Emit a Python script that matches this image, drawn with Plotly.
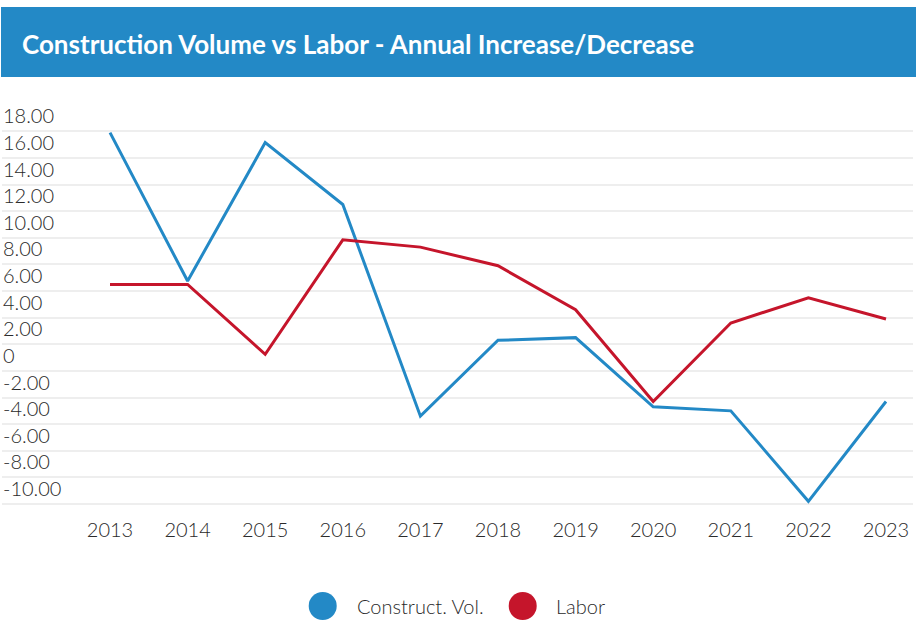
import plotly.graph_objects as go

years = [2013, 2014, 2015, 2016, 2017, 2018, 2019, 2020, 2021, 2022, 2023]
construct_vol = [17.9, 6.75, 17.15, 12.5, -3.4, 2.3, 2.5, -2.7, -3.0, -9.8, -2.3]
labor = [6.5, 6.5, 1.25, 9.85, 9.3, 7.9, 4.6, -2.3, 3.6, 5.5, 3.9]
y_tick_vals = [18, 16, 14, 12, 10, 8, 6, 4, 2, 0, -2, -4, -6, -8, -10]
y_tick_text = ["18.00", "16.00", "14.00", "12.00", "10.00", "8.00", "6.00", "4.00",
               "2.00", "0", "-2.00", "-4.00", "-6.00", "-8.00", "-10.00"]
series_names = ["Construct. Vol.", "Labor"]
title_text = "Construction Volume vs Labor - Annual Increase/Decrease"

BLUE = "#2389C6"
RED = "#C5152B"
FONT = "Lato, 'Open Sans', sans-serif"

fig = go.Figure()
for name, vals, col in [(series_names[0], construct_vol, BLUE), (series_names[1], labor, RED)]:
    fig.add_trace(go.Scatter(x=years, y=vals, mode="lines", name=name,
                             line=dict(color=col, width=3), showlegend=False,
                             hoverinfo="x+y+name"))

# plot area in pixels: x 2..913, y 118..512
def px(x):
    return (x - 2) / 911.0

def py(y):
    return (512 - y) / 394.0

legend_y = py(606)
shapes = [dict(type="rect", xref="paper", yref="paper",
               x0=px(1), x1=px(916), y0=py(77), y1=py(7),
               fillcolor="#2389C6", line=dict(width=0), layer="below")]
annotations = [dict(text="<b>" + title_text + "</b>", xref="paper", yref="paper",
                    x=px(20), y=py(44), xanchor="left", yanchor="middle",
                    showarrow=False,
                    font=dict(family=FONT, size=26, color="white"))]
for name, col, cx, tx in [(series_names[0], BLUE, 322.7, 355),
                          (series_names[1], RED, 522.7, 554)]:
    shapes.append(dict(type="circle", xref="paper", yref="paper",
                       xsizemode="pixel", ysizemode="pixel",
                       xanchor=px(cx), yanchor=legend_y,
                       x0=-14, x1=14, y0=-14, y1=14,
                       fillcolor=col, line=dict(width=0)))
    annotations.append(dict(text=name, xref="paper", yref="paper",
                            x=px(tx), y=legend_y, xanchor="left", yanchor="middle",
                            showarrow=False,
                            font=dict(family=FONT, size=20, color="#2a2a2a", weight=300)))

fig.update_layout(
    width=918, height=623,
    margin=dict(l=2, r=5, t=118, b=111),
    paper_bgcolor="white", plot_bgcolor="white",
    font=dict(family=FONT, color="#333333", size=18),
    showlegend=False,
    shapes=shapes,
    annotations=annotations,
)
fig.update_xaxes(type="linear", range=[2011.608, 2023.348], tickvals=years,
                 ticktext=[str(y) for y in years], showgrid=False, zeroline=False,
                 showline=False, ticks="", ticklabelstandoff=4,
                 tickfont=dict(size=20, color="#2a2a2a", weight=300),
                 fixedrange=True)
fig.update_yaxes(range=[-10.6, 19], tickvals=y_tick_vals, ticktext=y_tick_text,
                 showgrid=True, gridcolor="#EEEEEE", gridwidth=2, zeroline=False,
                 showline=False, ticks="", ticklabelposition="inside",
                 ticklabelshift=-15, ticklabelstandoff=-2, ticklabeloverflow="allow",
                 tickfont=dict(size=20, color="#2a2a2a", weight=300), fixedrange=True)

fig.write_html("out.html", config={"displayModeBar": False},
               post_script="document.body.style.margin='0';")
